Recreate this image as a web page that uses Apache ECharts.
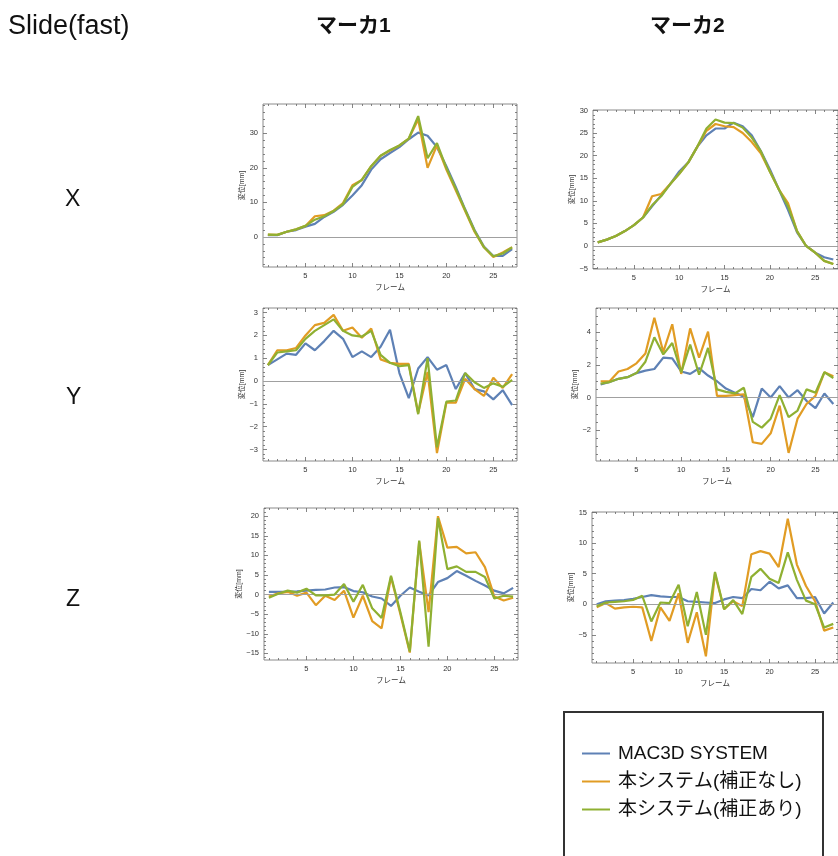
<!DOCTYPE html>
<html><head><meta charset="utf-8">
<script src="https://cdn.jsdelivr.net/npm/echarts@6/dist/echarts.min.js"></script>
<style>html,body{margin:0;padding:0;background:#fff}#c{width:838px;height:856px}</style>
</head><body><div id="c"></div>
<script>
// ---------- DATA ----------
const frames = [1,2,3,4,5,6,7,8,9,10,11,12,13,14,15,16,17,18,19,20,21,22,23,24,25,26,27];
const seriesNames = ['MAC3D SYSTEM','本システム(補正なし)','本システム(補正あり)'];
const xTickValues = [5,10,15,20,25];

const x1Mac = [0.5,0.5,1.5,2.0,3.0,3.8,5.8,7.3,9.3,12.0,15.0,19.5,22.5,24.3,26.0,28.3,30.2,29.3,26.0,20.5,14.5,8.0,2.0,-2.8,-5.5,-5.5,-3.5];
const x1Raw = [0.7,0.6,1.5,2.2,3.2,6.0,6.3,7.6,9.8,15.0,16.5,20.5,23.5,25.0,26.5,28.5,34.0,20.0,26.5,19.5,13.5,7.5,1.5,-3.0,-5.8,-4.5,-3.0];
const x1Cor = [0.7,0.6,1.5,2.2,3.2,5.0,6.0,7.5,9.5,14.5,16.5,20.5,23.5,25.2,26.5,28.5,35.0,22.8,27.2,20.0,14.0,7.8,1.8,-3.0,-5.6,-4.8,-3.0];
const x1YTicks = [0,10,20,30];

const x2Mac = [0.8,1.4,2.2,3.3,4.6,6.3,8.8,11.2,13.7,16.5,18.5,22.0,24.5,26.0,26.0,27.3,26.5,24.5,21.0,17.0,12.5,8.0,3.0,0.0,-1.5,-2.5,-3.0];
const x2Raw = [0.8,1.4,2.2,3.3,4.6,6.3,11.0,11.5,13.7,16.0,18.5,22.0,25.5,27.0,26.5,26.3,25.0,23.0,20.5,16.5,12.5,9.5,3.3,0.0,-1.5,-3.3,-4.0];
const x2Cor = [0.8,1.4,2.2,3.3,4.6,6.3,9.0,11.0,13.7,16.0,18.5,22.0,26.0,28.0,27.3,27.2,26.2,24.0,21.0,16.5,12.5,8.8,3.3,0.0,-1.5,-3.3,-4.0];
const x2YTicks = [-5,0,5,10,15,20,25,30];

const y1Mac = [0.7,0.95,1.2,1.15,1.65,1.35,1.75,2.2,1.85,1.05,1.3,1.05,1.5,2.25,0.35,-0.75,0.55,1.05,0.5,0.7,-0.35,0.35,-0.35,-0.45,-0.8,-0.4,-1.05];
const y1Raw = [0.7,1.35,1.35,1.45,2.0,2.45,2.55,2.9,2.2,2.35,1.9,2.3,0.95,0.8,0.75,0.75,-1.4,0.4,-3.15,-0.95,-0.95,0.1,-0.35,-0.65,0.15,-0.3,0.3];
const y1Cor = [0.7,1.25,1.3,1.35,1.85,2.2,2.45,2.7,2.2,2.0,1.95,2.2,1.15,0.8,0.65,0.7,-1.45,1.0,-2.9,-0.9,-0.85,0.35,-0.05,-0.3,-0.1,-0.25,0.05];
const y1YTicks = [-3,-2,-1,0,1,2,3];

const y2Mac = [0.8,0.95,1.15,1.25,1.5,1.65,1.75,2.45,2.4,1.6,1.45,1.8,1.35,1.0,0.55,0.3,0.05,-1.2,0.55,0.0,0.7,0.0,0.45,-0.2,-0.65,0.25,-0.4];
const y2Raw = [1.0,1.0,1.6,1.75,2.1,2.7,4.9,2.8,4.5,1.45,4.25,2.45,4.05,0.1,0.1,0.15,0.2,-2.75,-2.85,-2.2,-0.5,-3.4,-1.3,-0.4,0.1,1.55,1.3];
const y2Cor = [0.85,0.95,1.15,1.25,1.5,2.2,3.7,2.65,3.35,1.55,3.25,1.4,3.05,0.5,0.35,0.25,0.6,-1.5,-1.85,-1.3,0.15,-1.2,-0.8,0.5,0.3,1.55,1.2];
const y2YTicks = [-2,0,2,4];

const z1Mac = [0.7,0.7,0.7,0.8,1.0,1.2,1.3,1.8,1.9,0.9,0.6,-0.5,-1.0,-2.9,-0.3,1.8,0.7,-0.2,3.2,4.2,6.0,4.8,3.5,2.3,1.0,0.3,1.7];
const z1Raw = [-0.5,0.3,0.7,-0.3,0.5,-2.7,-0.3,-1.4,1.0,-5.9,-0.3,-6.8,-8.6,4.5,-5.0,-14.8,13.5,-4.5,20.0,12.0,12.2,10.5,10.8,7.0,-0.5,-1.5,-0.8];
const z1Cor = [-0.8,0.2,1.0,0.5,1.5,-0.2,-0.2,0.0,2.7,-1.8,2.5,-3.5,-6.0,4.8,-4.5,-14.5,13.8,-13.3,19.5,6.5,7.2,5.8,5.8,4.5,-1.0,-0.3,-0.5];
const z1YTicks = [-15,-10,-5,0,5,10,15,20];

const z2Mac = [0.0,0.5,0.6,0.7,0.9,1.2,1.5,1.3,1.2,1.2,0.5,0.4,0.3,0.2,0.8,1.2,1.0,2.5,2.3,3.7,2.6,3.1,1.0,1.0,1.2,-1.5,0.3];
const z2Raw = [-0.5,0.2,-0.7,-0.5,-0.4,-0.5,-6.0,-0.5,-2.7,1.8,-6.3,-1.3,-8.5,5.0,-0.8,0.5,-0.3,8.2,8.7,8.3,6.1,14.0,6.5,3.0,0.5,-4.3,-3.8];
const z2Cor = [-0.3,0.3,0.4,0.5,0.7,1.4,-2.8,0.3,0.2,3.2,-3.6,2.0,-5.0,5.3,-0.8,0.7,-1.6,4.5,5.8,4.2,3.5,8.5,4.0,0.6,0.0,-3.8,-3.2];
const z2YTicks = [-5,0,5,10,15];

// ---------- LAYOUT / STYLE ----------
const COLORS = ['#5E81B5','#E19C24','#8FB032'];
const FONT = "'Liberation Sans','Noto Sans CJK JP',sans-serif";
const X_MIN = 0.48, X_MAX = 27.52, PW = 254;

const panels = [
  {d:[x1Mac,x1Raw,x1Cor], ticks:x1YTicks, minor:2,   left:263, top:104, h:163, ymin:-8.7, ymax:38.5},
  {d:[x2Mac,x2Raw,x2Cor], ticks:x2YTicks, minor:1,   left:593, top:110, h:159, ymin:-5.1, ymax:30.1},
  {d:[y1Mac,y1Raw,y1Cor], ticks:y1YTicks, minor:0.2, left:263, top:308, h:153, ymin:-3.5, ymax:3.2},
  {d:[y2Mac,y2Raw,y2Cor], ticks:y2YTicks, minor:0.5, left:596, top:308, h:153, ymin:-3.9, ymax:5.5},
  {d:[z1Mac,z1Raw,z1Cor], ticks:z1YTicks, minor:1,   left:264, top:508, h:152, ymin:-16.7, ymax:22.1},
  {d:[z2Mac,z2Raw,z2Cor], ticks:z2YTicks, minor:1,   left:592, top:512, h:151, ymin:-9.6, ymax:15.1}
];

function stepsBetween(a, b, step){ const out=[]; const s=Math.ceil(a/step-1e-9); const e=Math.floor(b/step+1e-9); for(let i=s;i<=e;i++){ out.push(+(i*step).toFixed(4)); } return out; }

const grids=[], xAxes=[], yAxes=[], series=[];
const FRAME = '#8a8a8a';
const tickLine = {color:'#666', width:0.8};

panels.forEach((p, gi) => {
  grids.push({left:p.left, top:p.top, width:PW, height:p.h, show:true, borderColor:FRAME, borderWidth:1, containLabel:false});
  const xMinor = stepsBetween(1, 27, 1).filter(v => xTickValues.indexOf(v) < 0);
  const yMinor = stepsBetween(p.ymin, p.ymax, p.minor).filter(v => !p.ticks.some(t => Math.abs(t - v) < 1e-6));
  const xBase = {type:'value', gridIndex:gi, min:X_MIN, max:X_MAX, axisLine:{show:false, onZero:false}, splitLine:{show:false}};
  const yBase = {type:'value', gridIndex:gi, min:p.ymin, max:p.ymax, axisLine:{show:false, onZero:false}, splitLine:{show:false}};
  const xi = xAxes.length, yi = yAxes.length;
  xAxes.push(Object.assign({}, xBase, {position:'bottom',
    axisTick:{show:true, inside:true, length:4, customValues:xTickValues, lineStyle:tickLine},
    axisLabel:{show:true, customValues:xTickValues, fontSize:7.5, color:'#333', margin:5, fontFamily:FONT},
    name:'フレーム', nameLocation:'middle', nameGap:17, nameTextStyle:{fontSize:7.5, color:'#333', fontFamily:FONT}}));
  xAxes.push(Object.assign({}, xBase, {position:'bottom', axisTick:{show:true, inside:true, length:2, customValues:xMinor, lineStyle:tickLine}, axisLabel:{show:false}}));
  xAxes.push(Object.assign({}, xBase, {position:'top', axisTick:{show:true, inside:true, length:4, customValues:xTickValues, lineStyle:tickLine}, axisLabel:{show:false}}));
  xAxes.push(Object.assign({}, xBase, {position:'top', axisTick:{show:true, inside:true, length:2, customValues:xMinor, lineStyle:tickLine}, axisLabel:{show:false}}));
  yAxes.push(Object.assign({}, yBase, {position:'left',
    axisTick:{show:true, inside:true, length:4, customValues:p.ticks, lineStyle:tickLine},
    axisLabel:{show:true, customValues:p.ticks, fontSize:7.5, color:'#333', margin:5, fontFamily:FONT, formatter: v => (v < 0 ? '\u2212' + Math.abs(v) : String(v))},
    name:'変位[mm]', nameLocation:'middle', nameGap:17, nameTextStyle:{fontSize:7, color:'#333', fontFamily:FONT}}));
  yAxes.push(Object.assign({}, yBase, {position:'left', axisTick:{show:true, inside:true, length:2, customValues:yMinor, lineStyle:tickLine}, axisLabel:{show:false}}));
  yAxes.push(Object.assign({}, yBase, {position:'right', axisTick:{show:true, inside:true, length:4, customValues:p.ticks, lineStyle:tickLine}, axisLabel:{show:false}}));
  yAxes.push(Object.assign({}, yBase, {position:'right', axisTick:{show:true, inside:true, length:2, customValues:yMinor, lineStyle:tickLine}, axisLabel:{show:false}}));

  p.d.forEach((vals, si) => {
    const s = {
      name: seriesNames[si], type:'line', xAxisIndex:xi, yAxisIndex:yi,
      data: frames.map((f, k) => [f, vals[k]]),
      showSymbol:false, symbol:'none', smooth:false, animation:false,
      lineStyle:{color:COLORS[si], width:2.2}, itemStyle:{color:COLORS[si]},
      z: 3 + si
    };
    if (si === 0) {
      s.markLine = {silent:true, symbol:['none','none'], label:{show:false}, animation:false,
        lineStyle:{color:'#a0a0a0', width:1, type:'solid'}, data:[{yAxis:0}]};
    }
    series.push(s);
  });
});

const option = {
  backgroundColor:'#fff',
  animation:false,
  grid: grids, xAxis: xAxes, yAxis: yAxes, series: series,
  legend: {
    orient:'vertical', left:577, top:739, itemWidth:28, itemHeight:2, itemGap:9,
    icon:'rect', selectedMode:false, data: seriesNames,
    textStyle:{fontSize:19, color:'#111', fontFamily:FONT, padding:[0,0,0,3]}
  },
  graphic: [
    {type:'text', left:8, top:13, style:{text:'Slide(fast)', fontSize:27, fill:'#111', fontFamily:FONT}},
    {type:'text', left:316, top:16, style:{text:'マーカ1', fontSize:21, fontWeight:'bold', fill:'#111', fontFamily:FONT}},
    {type:'text', left:650, top:16, style:{text:'マーカ2', fontSize:21, fontWeight:'bold', fill:'#111', fontFamily:FONT}},
    {type:'text', left:65, top:188, style:{text:'X', fontSize:23, fill:'#111', fontFamily:FONT}},
    {type:'text', left:66, top:386, style:{text:'Y', fontSize:23, fill:'#111', fontFamily:FONT}},
    {type:'text', left:66, top:588, style:{text:'Z', fontSize:23, fill:'#111', fontFamily:FONT}},
    {type:'rect', shape:{x:564, y:712, width:259, height:170}, style:{fill:'none', stroke:'#333', lineWidth:2}}
  ]
};
const chart = echarts.init(document.getElementById('c'), null, {renderer:'canvas'});
chart.setOption(option);
</script></body></html>
